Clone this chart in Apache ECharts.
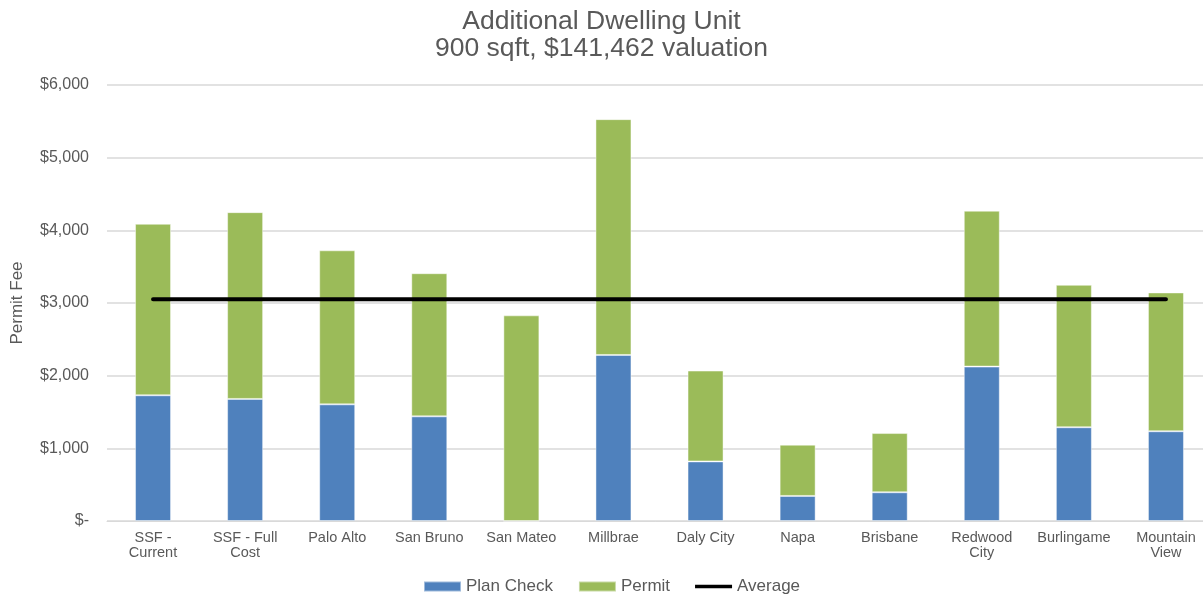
<!DOCTYPE html>
<html>
<head>
<meta charset="utf-8">
<script src="https://cdn.jsdelivr.net/npm/echarts@6/dist/echarts.min.js"></script>
<style>
  html, body { margin: 0; padding: 0; background: #ffffff; }
  #chart { width: 1203px; height: 596px; }
</style>
</head>
<body>
<div id="chart"></div>
<script>
// Jurisdictions compared
const categories = [
  'SSF -\nCurrent', 'SSF - Full\nCost', 'Palo Alto', 'San Bruno', 'San Mateo', 'Millbrae',
  'Daly City', 'Napa', 'Brisbane', 'Redwood\nCity', 'Burlingame', 'Mountain\nView'
];

// Fee components (USD)
const planCheck = [1730, 1680, 1605, 1440, 0, 2285, 820, 345, 395, 2125, 1290, 1235];
const permit    = [2360, 2570, 2120, 1970, 2830, 3245, 1250, 705, 815, 2145, 1960, 1910];

// Average total fee, drawn across all jurisdictions
const average = [3050, 3050, 3050, 3050, 3050, 3050, 3050, 3050, 3050, 3050, 3050, 3050];

// Value axis tick labels ($0 .. $6,000 by 1,000)
const yTickLabels = ['$-', '$1,000', '$2,000', '$3,000', '$4,000', '$5,000', '$6,000'];

const FONT = '"Liberation Sans", Arial, Helvetica, sans-serif';
const TEXT = '#595959';

const chart = echarts.init(document.getElementById('chart'), null, { renderer: 'canvas' });

chart.setOption({
  animation: false,
  backgroundColor: '#ffffff',
  textStyle: { fontFamily: FONT },
  title: {
    text: 'Additional Dwelling Unit\n900 sqft, $141,462 valuation',
    left: 'center',
    top: 3,
    textStyle: { fontFamily: FONT, fontSize: 26.5, fontWeight: 'normal', color: TEXT, lineHeight: 27 }
  },
  legend: {
    bottom: -4,
    left: 418,
    itemWidth: 37,
    itemHeight: 10,
    itemGap: 25,
    textStyle: { fontFamily: FONT, fontSize: 17, color: TEXT },
    data: [
      { name: 'Plan Check', icon: 'rect' },
      { name: 'Permit', icon: 'rect' },
      { name: 'Average', icon: 'path://M0,0 L37,0 L37,3.5 L0,3.5 Z' }
    ]
  },
  grid: { left: 107, right: -9, top: 85, bottom: 75, containLabel: false, outerBoundsMode: 'none' },
  xAxis: {
    type: 'category',
    data: categories,
    axisLine: { show: true, lineStyle: { color: '#d9d9d9', width: 1 } },
    axisTick: { show: false },
    axisLabel: {
      interval: 0,
      margin: 9,
      fontFamily: FONT,
      fontSize: 14.5,
      lineHeight: 15,
      color: TEXT
    }
  },
  yAxis: {
    type: 'value',
    min: 0,
    max: 6000,
    interval: 1000,
    name: 'Permit Fee',
    nameLocation: 'middle',
    nameGap: 81,
    nameRotate: 90,
    nameTextStyle: { fontFamily: FONT, fontSize: 17, color: TEXT },
    axisLine: { show: false },
    axisTick: { show: false },
    axisLabel: {
      margin: 18,
      fontFamily: FONT,
      fontSize: 16,
      color: TEXT,
      formatter: function (v) { return yTickLabels[Math.round(v / 1000)]; }
    },
    splitLine: { show: true, lineStyle: { color: '#d9d9d9', width: 1.5 } }
  },
  series: [
    {
      name: 'Plan Check',
      type: 'bar',
      stack: 'fee',
      barWidth: 36,
      data: planCheck,
      itemStyle: { color: '#4F81BD', borderColor: 'rgba(255,255,255,0.45)', borderWidth: 1 }
    },
    {
      name: 'Permit',
      type: 'bar',
      stack: 'fee',
      barWidth: 36,
      data: permit,
      itemStyle: { color: '#9BBB59', borderColor: 'rgba(255,255,255,0.45)', borderWidth: 1 }
    },
    {
      name: 'Average',
      type: 'line',
      data: average,
      symbol: 'none',
      z: 5,
      itemStyle: { color: '#000000' },
      lineStyle: { color: '#000000', width: 4, cap: 'round' }
    }
  ]
});
</script>
</body>
</html>
